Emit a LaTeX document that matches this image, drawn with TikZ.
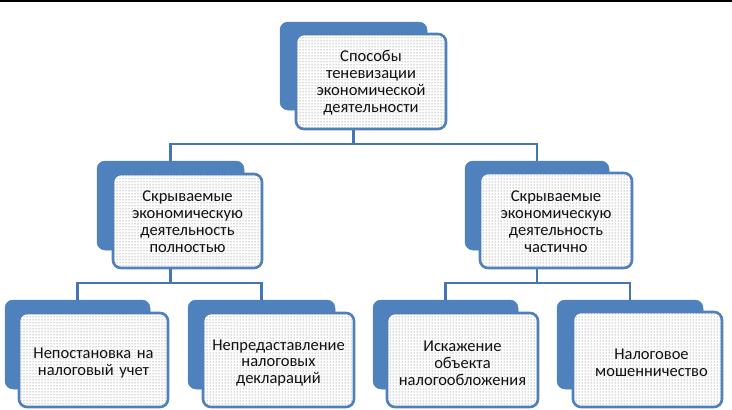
\documentclass[tikz,border=0pt]{standalone}
\usepackage{fontspec}
\setmainfont{Carlito}
\usetikzlibrary{patterns}
\definecolor{accent}{HTML}{4F81BD}
\definecolor{connc}{HTML}{4676B2}
\definecolor{txt}{HTML}{111111}
\tikzset{
  backbox/.style={fill=accent, draw=accent, line width=0.5pt, rounded corners=8pt,
    anchor=north west, inner sep=0pt, outer sep=0pt},
  frontbox/.style={draw=accent, line width=2.6pt, rounded corners=8pt, fill=white,
    postaction={pattern=dots, pattern color=black!60},
    anchor=north west, inner sep=0pt, outer sep=0pt},
  label/.style={text=txt, font=\fontsize{16.5}{16.9}\selectfont, align=center, text width=148pt, inner sep=0pt},
  conn/.style={draw=connc, line width=2.6pt}
}
\begin{document}
\begin{tikzpicture}[x=1pt,y=-1pt]
\useasboundingbox (0,0) rectangle (732,410);
\draw[black, line width=2.5pt] (0,0.5) -- (732,0.5);

% back boxes
\node[backbox, minimum width=147pt, minimum height=88pt] (topb) at (280,22) {};
\node[backbox, minimum width=147pt, minimum height=89pt] (lb) at (97,161) {};
\node[backbox, minimum width=144pt, minimum height=89pt] (rb) at (465,161) {};
\node[backbox, minimum width=145pt, minimum height=89pt] (l1b) at (5,300) {};
\node[backbox, minimum width=147pt, minimum height=89pt] (l2b) at (188,300) {};
\node[backbox, minimum width=145pt, minimum height=89pt] (l3b) at (373,300) {};
\node[backbox, minimum width=146pt, minimum height=89pt] (l4b) at (557,300) {};

% connectors
\draw[conn] (topb.center |- 0,128) -- (topb.center |- 0,144) -| (lb.north);
\draw[conn] (topb.center |- 0,144) -| (rb.north);
\draw[conn] (lb.center |- 0,266) -- (lb.center |- 0,283) -| (l1b.north);
\draw[conn] (lb.center |- 0,283) -| (l2b.north);
\draw[conn] (rb.center |- 0,266) -- (rb.center |- 0,283) -| (l3b.north);
\draw[conn] (rb.center |- 0,283) -| (l4b.north);

% front boxes
\node[frontbox, minimum width=150pt, minimum height=95pt] (topf) at (296,34) {};
\node[frontbox, minimum width=149pt, minimum height=94pt] (lf) at (113,174) {};
\node[frontbox, minimum width=152pt, minimum height=95pt] (rf) at (480,173) {};
\node[frontbox, minimum width=149pt, minimum height=94pt] (l1f) at (19,313) {};
\node[frontbox, minimum width=151pt, minimum height=94pt] (l2f) at (203,313) {};
\node[frontbox, minimum width=151pt, minimum height=94pt] (l3f) at (387,313) {};
\node[frontbox, minimum width=149pt, minimum height=95pt] (l4f) at (573,312) {};

% texts
\node[label] (t0) at ([yshift=-1pt]topf.center) {Способы\\теневизации\\экономической\\деятельности};
\node[label] (t1) at ([yshift=-1pt]lf.center) {Скрываемые\\экономическую\\деятельность\\полностью};
\node[label] (t2) at ([yshift=-1pt]rf.center) {Скрываемые\\экономическую\\деятельность\\частично};
\node[label] (t3) at ([yshift=-3pt]l1f.center) {Непостановка на\\налоговый учет};
\node[label] (t4) at ([yshift=-3pt]l2f.center) {Непредаставление\\налоговых\\деклараций};
\node[label] (t5) at ([yshift=-3pt]l3f.center) {Искажение\\объекта\\налогообложения};
\node[label] (t6) at ([xshift=4pt,yshift=-3pt]l4f.center) {Налоговое\\мошенничество};
\end{tikzpicture}
\end{document}
